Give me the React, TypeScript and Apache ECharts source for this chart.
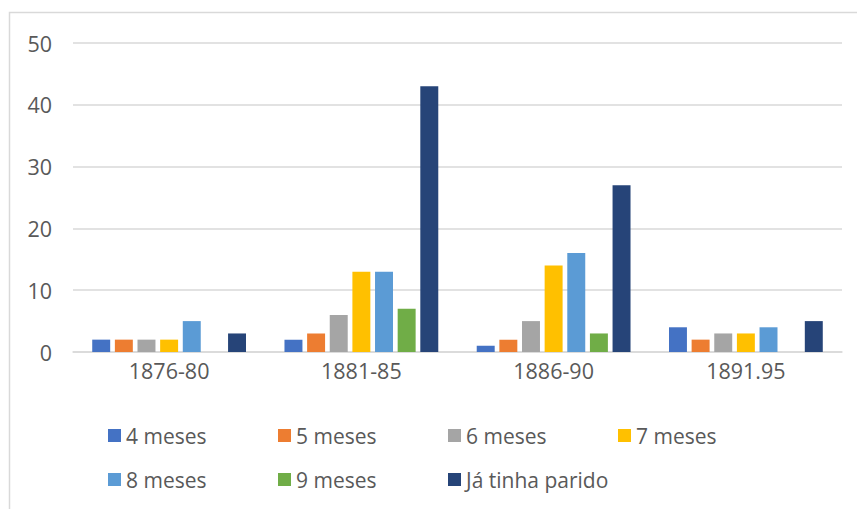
import React, { useEffect, useRef } from "react";
import * as echarts from "echarts";

const categories = ["1876-80", "1881-85", "1886-90", "1891.95"];
const seriesNames = ["4 meses", "5 meses", "6 meses", "7 meses", "8 meses", "9 meses", "Já tinha parido"];
const meses4 = [2, 2, 1, 4];
const meses5 = [2, 3, 2, 2];
const meses6 = [2, 6, 5, 3];
const meses7 = [2, 13, 14, 3];
const meses8 = [5, 13, 16, 4];
const meses9 = [null, 7, 3, null];
const jaParido = [3, 43, 27, 5];
const colors = ["#4472C4", "#ED7D31", "#A5A5A5", "#FFC000", "#5B9BD5", "#70AD47", "#264478"];

const FONT = "'Open Sans', sans-serif";
const FS = 21.5;

export default function App() {
  const ref = useRef<HTMLDivElement>(null);
  useEffect(() => {
    if (!ref.current) return;
    const chart = echarts.init(ref.current, undefined, { renderer: "svg" });
    const values = [meses4, meses5, meses6, meses7, meses8, meses9, jaParido];
    const legendPos = [
      [108, 425], [278, 425], [448, 425], [618, 425],
      [108, 469], [278, 469], [448, 469],
    ];
    chart.setOption({
      animation: false,
      color: colors,
      graphic: [
        {
          type: "rect",
          shape: { x: 9.5, y: 12.5, width: 1000, height: 1000 },
          style: { fill: "none", stroke: "#d9d9d9", lineWidth: 1.5 },
          silent: true,
        },
      ],
      grid: { left: 73, right: 15, top: 43, bottom: 157, containLabel: false },
      legend: seriesNames.map((n, i) => ({
        data: [n],
        left: legendPos[i][0],
        top: legendPos[i][1],
        itemWidth: 13,
        itemHeight: 13,
        icon: "rect",
        padding: 0,
        textStyle: { fontFamily: FONT, fontSize: 21, color: "#595959" },
      })),
      xAxis: {
        type: "category",
        data: categories,
        axisLine: { lineStyle: { color: "#d9d9d9", width: 1.5 } },
        axisTick: { show: false },
        axisLabel: { fontFamily: FONT, fontSize: FS, color: "#595959", margin: 7 },
      },
      yAxis: {
        type: "value",
        min: 0,
        max: 50,
        interval: 10,
        axisLine: { show: false },
        axisTick: { show: false },
        splitLine: { lineStyle: { color: "#d9d9d9", width: 1.5 } },
        axisLabel: { fontFamily: FONT, fontSize: FS, color: "#595959", margin: 21 },
      },
      series: seriesNames.map((n, i) => ({
        name: n,
        type: "bar",
        data: values[i],
        barGap: "26%",
        barCategoryGap: "20%",
      })),
    });
    return () => chart.dispose();
  }, []);
  return (
    <div
      ref={ref}
      style={{ position: "absolute", left: 0, top: 0, width: 857, height: 509, background: "#fff" }}
    />
  );
}
